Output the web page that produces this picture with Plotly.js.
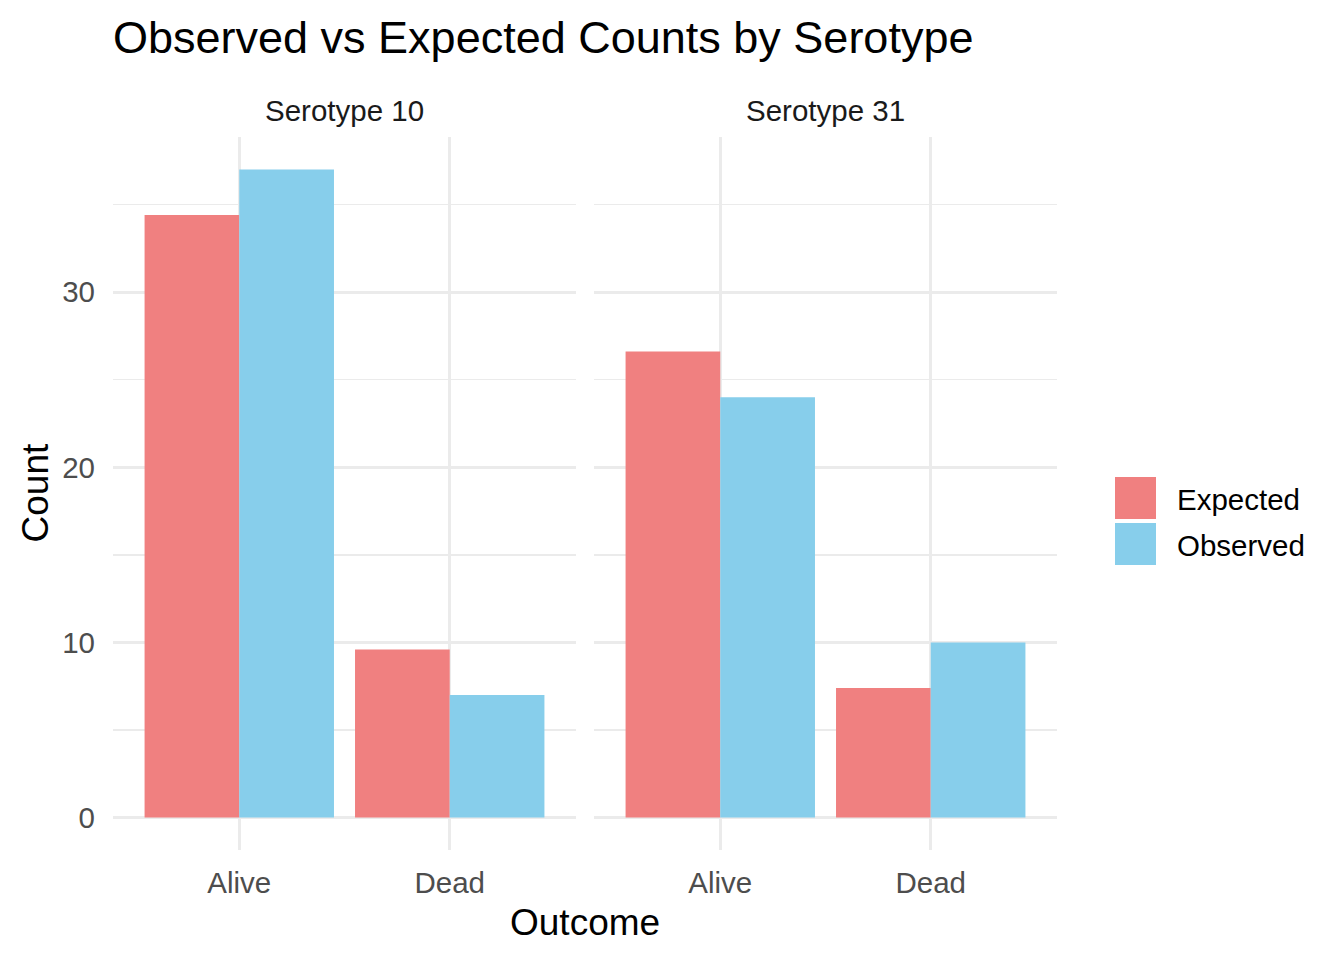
<!DOCTYPE html>
<html>
<head>
<meta charset="utf-8">
<script src="https://cdn.plot.ly/plotly-3.0.1.min.js"></script>
<style>
  html, body { margin: 0; padding: 0; background: #fff; }
  #chart { width: 1344px; height: 960px; }
</style>
</head>
<body>
<div id="chart"></div>
<script>
// data
const serotypes = ["Serotype 10", "Serotype 31"];
const outcomes = ["Alive", "Dead"];
const seriesNames = ["Expected", "Observed"];
const seriesColors = ["#F08080", "#87CEEB"];
const expected10 = [34.4, 9.6];
const observed10 = [37, 7];
const expected31 = [26.6, 7.4];
const observed31 = [24, 10];

const font = "'Liberation Sans', Arial, sans-serif";
const grid = "#EBEBEB";

// panel layout in pixels (plot area 113..1057 x 137..850)
const W = 1344, H = 960;
const L = 113, R = 287, T = 137, B = 110;
const pw = W - L - R, ph = H - T - B;
const px = (x) => (x - L) / pw;
const py = (y) => (H - B - y) / ph;

const panels = [
  { name: serotypes[0], vals: [expected10, observed10], xa: "x", ya: "y" },
  { name: serotypes[1], vals: [expected31, observed31], xa: "x2", ya: "y2" },
];

const traces = [];
panels.forEach((p) => {
  p.vals.forEach((v, i) => {
    traces.push({
      type: "bar",
      x: outcomes,
      y: v,
      name: seriesNames[i],
      marker: { color: seriesColors[i], line: { width: 0 } },
      xaxis: p.xa,
      yaxis: p.ya,
      showlegend: false,
      hoverinfo: "skip",
    });
  });
});

const xBase = {
  type: "category",
  range: [-0.6, 1.6],
  showgrid: true,
  gridcolor: grid,
  gridwidth: 3,
  zeroline: false,
  showline: false,
  ticks: "",
  tickfont: { family: font, size: 29.5, color: "#4D4D4D" },
  ticklabelstandoff: 12,
  fixedrange: true,
};
const yBase = {
  range: [-1.85, 38.85],
  tick0: 0,
  dtick: 10,
  showgrid: true,
  gridcolor: grid,
  gridwidth: 3,
  minor: { dtick: 5, tick0: 0, showgrid: true, gridcolor: grid, gridwidth: 1.5 },
  zeroline: false,
  showline: false,
  ticks: "",
  tickfont: { family: font, size: 29.5, color: "#4D4D4D" },
  ticklabelstandoff: 17,
  fixedrange: true,
};

const annotations = [
  {
    text: "Outcome", xref: "paper", yref: "paper", x: 0.5, y: py(922),
    xanchor: "center", yanchor: "middle", showarrow: false,
    font: { family: font, size: 37, color: "#000" },
  },
  {
    text: "Count", xref: "paper", yref: "paper", x: px(35), y: py(493.5),
    xanchor: "center", yanchor: "middle", textangle: -90, showarrow: false,
    font: { family: font, size: 37, color: "#000" },
  },
];
[344.5, 825.5].forEach((cx, i) => {
  annotations.push({
    text: serotypes[i], xref: "paper", yref: "paper", x: px(cx), y: py(111),
    xanchor: "center", yanchor: "middle", showarrow: false,
    font: { family: font, size: 29.5, color: "#1A1A1A" },
  });
});

// legend drawn as keys + labels
const shapes = [];
const keyTop = [477, 523];
seriesNames.forEach((n, i) => {
  shapes.push({
    type: "rect", xref: "paper", yref: "paper",
    x0: px(1115), x1: px(1156), y0: py(keyTop[i] + 42), y1: py(keyTop[i]),
    fillcolor: seriesColors[i], line: { width: 0 },
  });
  annotations.push({
    text: n, xref: "paper", yref: "paper", x: px(1175), y: py(keyTop[i] + 22),
    xanchor: "left", yanchor: "middle", showarrow: false,
    font: { family: font, size: 29.5, color: "#000" },
  });
});

const layout = {
  width: W,
  height: H,
  margin: { l: L, r: R, t: T, b: B },
  paper_bgcolor: "#fff",
  plot_bgcolor: "#fff",
  title: {
    text: "Observed vs Expected Counts by Serotype",
    xref: "container", yref: "container",
    x: L / W, xanchor: "left", y: 1 - 37 / H, yanchor: "middle",
    font: { family: font, size: 45, color: "#000" },
  },
  barmode: "group",
  bargap: 0.1,
  bargroupgap: 0,
  xaxis: Object.assign({}, xBase, { domain: [0, px(576)], anchor: "y" }),
  xaxis2: Object.assign({}, xBase, { domain: [px(594), 1], anchor: "y2" }),
  yaxis: Object.assign({}, yBase, { anchor: "x" }),
  yaxis2: Object.assign({}, yBase, { anchor: "x2", matches: "y", showticklabels: false }),
  annotations: annotations,
  shapes: shapes,
  showlegend: false,
};

Plotly.newPlot("chart", traces, layout, { staticPlot: true, displayModeBar: false });
</script>
</body>
</html>
